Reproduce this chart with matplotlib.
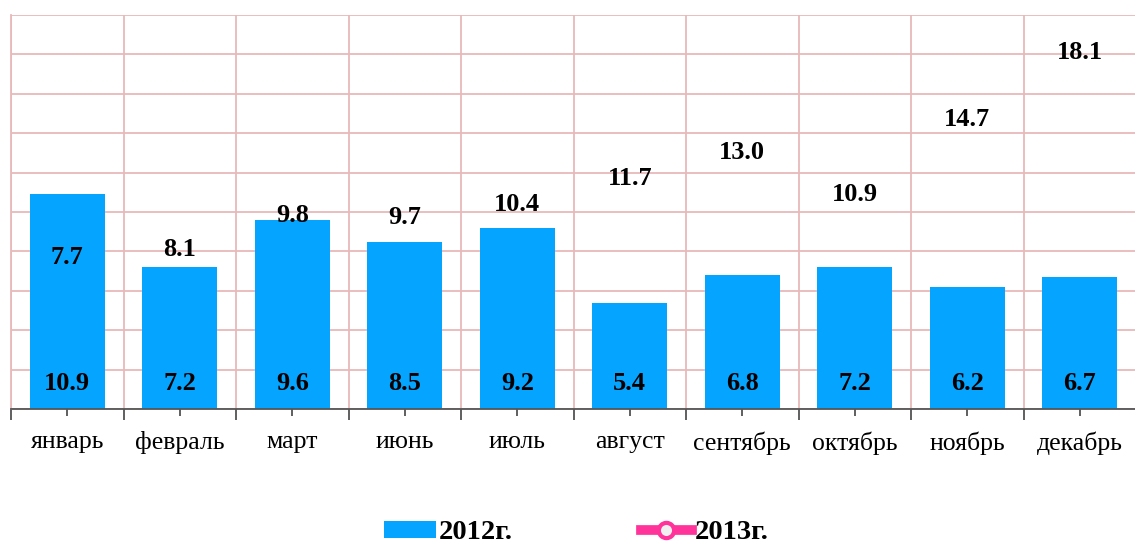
import matplotlib.pyplot as plt
from matplotlib.lines import Line2D
from matplotlib.patches import Patch
from matplotlib.ticker import FixedLocator, MultipleLocator

months = ["январь", "февраль", "март", "июнь", "июль",
          "август", "сентябрь", "октябрь", "ноябрь", "декабрь"]
values_2012 = [10.9, 7.2, 9.6, 8.5, 9.2, 5.4, 6.8, 7.2, 6.2, 6.7]
values_2013 = [7.7, 8.1, 9.8, 9.7, 10.4, 11.7, 13.0, 10.9, 14.7, 18.1]
series_names = ["2012г.", "2013г."]

BAR_COLOR = "#05a5ff"
LINE_COLOR = "#ff3399"
GRID_COLOR = "#e8b9b9"

plt.rcParams["font.family"] = ["Liberation Serif", "DejaVu Serif"]

fig = plt.figure(figsize=(11.35, 5.47), dpi=100)
ax = fig.add_axes([11 / 1135, 138 / 547, 1125 / 1135, 394 / 547])

x = list(range(len(months)))
ax.bar(x, values_2012, width=0.67, color=BAR_COLOR, zorder=2)

for xi, v in zip(x, values_2012):
    ax.text(xi, 1.3, f"{v:.1f}", ha="center", va="center",
            fontsize=19, fontweight="bold", zorder=3)

for xi, v in zip(x, values_2013):
    ax.text(xi, v, f"{v:.1f}", ha="center", va="center",
            fontsize=19, fontweight="bold", zorder=3)

ax.set_xlim(-0.5, len(months) - 0.5)
ax.set_ylim(0, 20)
ax.yaxis.set_major_locator(MultipleLocator(2))
ax.set_yticklabels([])
ax.tick_params(axis="y", length=0)

# category labels at centres, boundary ticks and vertical grid between them
ax.xaxis.set_major_locator(FixedLocator([i - 0.5 for i in range(len(months) + 1)]))
ax.xaxis.set_minor_locator(FixedLocator(x))
ax.set_xticklabels([])
ax.set_xticklabels(months, minor=True, fontsize=18.5)
ax.tick_params(axis="x", which="major", length=8, color="#444444", width=1.2)
ax.tick_params(axis="x", which="minor", length=5, color="#444444", width=1.2, pad=11)

ax.grid(True, which="major", color=GRID_COLOR, linewidth=1.3, zorder=0)
ax.set_axisbelow(True)

for side in ["top", "right"]:
    ax.spines[side].set_visible(False)
ax.spines["left"].set_color(GRID_COLOR)
ax.spines["left"].set_linewidth(1.3)
ax.spines["bottom"].set_color("#555555")
ax.spines["bottom"].set_linewidth(1.3)

handles = [
    Patch(facecolor=BAR_COLOR, edgecolor="none"),
    Line2D([], [], color=LINE_COLOR, linewidth=7, marker="o", markersize=11,
           markerfacecolor="#f0f0f0", markeredgecolor=LINE_COLOR, markeredgewidth=3),
]
fig.legend(handles, series_names, loc="center", bbox_to_anchor=(0.508, 0.026),
           ncol=2, frameon=False, handlelength=1.8, handleheight=0.55,
           handletextpad=0.1, columnspacing=4.5, borderpad=0.2,
           prop={"size": 20.5, "weight": "bold"})

fig.savefig("out.png", dpi=100)
